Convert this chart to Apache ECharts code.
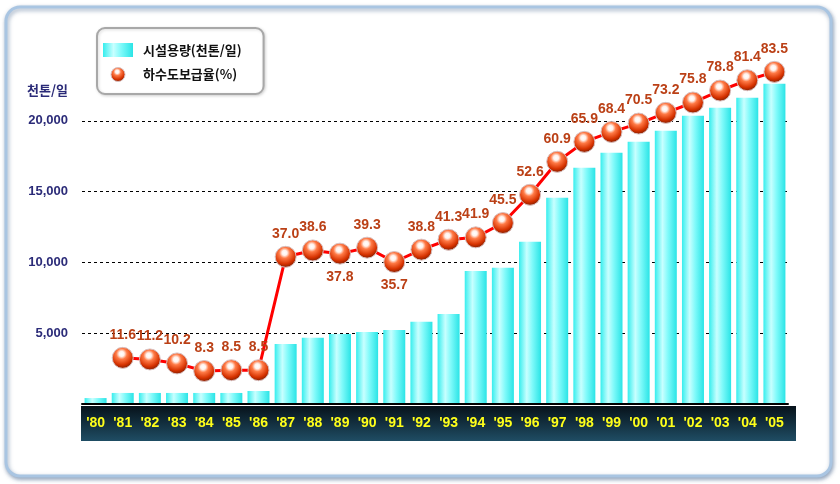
<!DOCTYPE html>
<html>
<head>
<meta charset="utf-8">
<script src="https://cdn.jsdelivr.net/npm/echarts@6/dist/echarts.min.js"></script>
<style>
html,body{margin:0;padding:0;background:#fff;}
#chart{width:840px;height:484px;}
</style>
</head>
<body>
<div id="chart"></div>
<script>
// ---- data ----
var years = ["'80","'81","'82","'83","'84","'85","'86","'87","'88","'89","'90","'91","'92","'93","'94","'95","'96","'97","'98","'99","'00","'01","'02","'03","'04","'05"];
var capacity = [420, 780, 780, 780, 780, 780, 920, 4240, 4670, 4950, 5090, 5230, 5800, 6360, 9400, 9620, 11450, 14560, 16690, 17750, 18520, 19300, 20360, 20930, 21630, 22620];
var coverage = [null, 11.6, 11.2, 10.2, 8.3, 8.5, 8.5, 37.0, 38.6, 37.8, 39.3, 35.7, 38.8, 41.3, 41.9, 45.5, 52.6, 60.9, 65.9, 68.4, 70.5, 73.2, 75.8, 78.8, 81.4, 83.5];
var yTicks = [0, 5000, 10000, 15000, 20000, 25000];
var seriesNames = ['시설용량(천톤/일)', '하수도보급율(%)'];
var yUnit = '천톤/일';

var chart = echarts.init(document.getElementById('chart'), null, {renderer: 'canvas'});

var narrow = "'Liberation Sans Narrow', 'Liberation Sans', Arial, sans-serif";
var navy = '#2b2b78';
var labelColor = '#bb4016';

var sphere = {
  type: 'radial', x: 0.45, y: 0.32, r: 0.72,
  colorStops: [
    {offset: 0, color: '#ffffff'},
    {offset: 0.16, color: '#fff2ec'},
    {offset: 0.34, color: '#ff7a46'},
    {offset: 0.7, color: '#d63200'},
    {offset: 1, color: '#6a1800'}
  ]
};
var barFill = {
  type: 'linear', x: 0, y: 0, x2: 1, y2: 0,
  colorStops: [
    {offset: 0, color: '#36eeee'},
    {offset: 0.35, color: '#c8ffff'},
    {offset: 0.6, color: '#80fafa'},
    {offset: 1, color: '#2ae4e6'}
  ]
};

// label placement tweaks (style only)
function labelFor(i) {
  var lbl = {};
  if (i === 9 || i === 11) { lbl.position = 'bottom'; lbl.distance = 5; }
  else if (i >= 15 && i <= 23) { lbl.offset = [-14, 0]; }
  else if (i >= 12 && i <= 14) { lbl.offset = [-9, 0]; }
  else if (i === 7) { lbl.offset = [-7, 0]; }
  else if (i === 24) { lbl.offset = [-8, 0]; }
  return lbl;
}
var lineData = coverage.map(function (v, i) {
  return {value: v, label: labelFor(i)};
});

var option = {
  animation: false,
  backgroundColor: '#ffffff',
  grid: {left: 82, top: 50, width: 706, height: 354, containLabel: false},
  legend: {
    left: 97, top: 28,
    orient: 'vertical',
    padding: [15, 22, 12, 6],
    itemGap: 10,
    itemWidth: 30, itemHeight: 14,
    borderColor: '#a8a8a8', borderWidth: 2, borderRadius: 8,
    backgroundColor: '#ffffff',
    shadowColor: 'rgba(0,0,0,0.15)', shadowBlur: 3, shadowOffsetX: 1, shadowOffsetY: 1,
    textStyle: {fontFamily: "'Noto Sans CJK KR', sans-serif", fontWeight: 'bold', fontSize: 13, color: '#111', padding: [0, 0, 0, 5]},
    data: [
      {name: seriesNames[0], icon: 'rect'},
      {name: seriesNames[1], icon: 'circle', itemStyle: {color: sphere, borderColor: '#d8c0c0', borderWidth: 1}}
    ]
  },
  xAxis: {
    type: 'category',
    data: years,
    axisLine: {lineStyle: {color: '#000', width: 2}},
    axisTick: {inside: true, length: 3, lineStyle: {color: '#000'}},
    axisLabel: {
      interval: 0, margin: 12, color: '#ffff1a', fontFamily: narrow, fontWeight: 'bold', fontSize: 14,
      textShadowColor: '#222', textShadowOffsetX: 1, textShadowOffsetY: 1, textShadowBlur: 0
    },
    z: 3
  },
  yAxis: [
    {
      type: 'value', min: yTicks[0], max: yTicks[yTicks.length - 1], interval: yTicks[1] - yTicks[0],
      axisLine: {show: false}, axisTick: {show: false},
      splitLine: {show: true, showMaxLine: false, lineStyle: {color: '#000', type: [3, 3], width: 1}},
      axisLabel: {
        margin: 14, color: navy, fontFamily: "'Liberation Sans', Arial, sans-serif", fontWeight: 'bold', fontSize: 13,
        showMaxLabel: false, showMinLabel: false,
        formatter: function (v) { return v === 0 ? '' : v.toLocaleString('en-US'); }
      }
    },
    {type: 'value', min: 0, max: 89, show: false, splitLine: {show: false}}
  ],
  graphic: [
    {
      type: 'rect', z: -10, silent: true,
      shape: {x: 6, y: 7, width: 825, height: 469, r: 14},
      style: {fill: '#ffffff', stroke: '#a9c5e2', lineWidth: 3,
        shadowColor: 'rgba(70,100,140,0.55)', shadowBlur: 4, shadowOffsetX: 1, shadowOffsetY: 2}
    },
    {
      type: 'rect', z: -5, silent: true,
      shape: {x: 81, y: 406, width: 715, height: 35},
      style: {fill: {type: 'linear', x: 0, y: 0, x2: 0, y2: 1,
        colorStops: [{offset: 0, color: '#07121a'}, {offset: 1, color: '#1f4d64'}]}}
    },
    {
      type: 'text', left: 27, top: 84, silent: true,
      style: {text: yUnit, fill: navy, font: "bold 13px 'Noto Sans CJK KR', sans-serif"}
    }
  ],
  series: [
    {
      name: seriesNames[0], type: 'bar', data: capacity, yAxisIndex: 0,
      barWidth: 22,
      itemStyle: {color: barFill},
      z: 2
    },
    {
      name: seriesNames[1], type: 'line', data: lineData, yAxisIndex: 1,
      connectNulls: false, showAllSymbol: true,
      lineStyle: {color: '#ff0000', width: 3},
      symbol: 'circle', symbolSize: 21,
      itemStyle: {color: sphere, borderColor: '#d8c0c0', borderWidth: 1},
      label: {
        show: true, position: 'top', distance: 5,
        color: labelColor, fontFamily: narrow, fontWeight: 'bold', fontSize: 14,
        formatter: function (p) { return p.value == null ? '' : Number(p.value).toFixed(1); }
      },
      labelLayout: {hideOverlap: false},
      z: 5
    }
  ]
};
chart.setOption(option);
</script>
</body>
</html>
